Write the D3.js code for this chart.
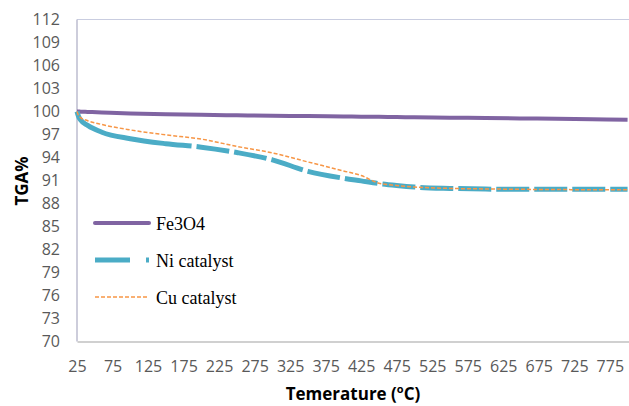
<!DOCTYPE html>
<html>
<head>
<meta charset="utf-8">
<script src="https://cdn.jsdelivr.net/npm/d3@7"></script>
<style>
  html, body { margin: 0; padding: 0; background: #fff; }
  svg { display: block; }
</style>
</head>
<body>
<svg id="chart" width="629" height="406"></svg>
<script>
// Thermogravimetric curves (mass % vs temperature)
const temperatures = [25, 27, 30, 40, 60, 100, 150, 200, 250, 300, 350, 400, 425, 450, 475, 500, 550, 600, 650, 700, 750, 800];
const fe3o4 = [100, 100, 99.98, 99.95, 99.88, 99.75, 99.65, 99.57, 99.5, 99.45, 99.4, 99.35, 99.32, 99.3, 99.27, 99.25, 99.2, 99.15, 99.1, 99.05, 98.98, 98.92];
const niCatalyst = [100, 99.4, 98.9, 98.2, 97.3, 96.45, 95.8, 95.35, 94.65, 93.7, 92.2, 91.3, 90.95, 90.6, 90.35, 90.15, 89.97, 89.88, 89.85, 89.85, 89.85, 89.85];
const cuCatalyst = [100, 99.5, 99.2, 98.8, 98.3, 97.6, 96.95, 96.4, 95.45, 94.6, 93.42, 92.25, 91.65, 90.65, 90.35, 90.15, 89.97, 89.9, 89.85, 89.82, 89.8, 89.8];

const seriesNames = ["Fe3O4", "Ni catalyst", "Cu catalyst"];
const xTicks = [25, 75, 125, 175, 225, 275, 325, 375, 425, 475, 525, 575, 625, 675, 725, 775];
const yTicks = [70, 73, 76, 79, 82, 85, 88, 91, 94, 97, 100, 103, 106, 109, 112];

const svg = d3.select("#chart");
const plotLeft = 77, plotRight = 629, plotTop = 19.5, plotBottom = 341.5;

const x = d3.scaleLinear().domain([25, 802]).range([plotLeft, plotRight]);
const y = d3.scaleLinear().domain([70, 112]).range([plotBottom, plotTop]);

// plot frame
svg.append("line").attr("x1", plotLeft).attr("x2", plotRight).attr("y1", plotTop).attr("y2", plotTop)
  .attr("stroke", "#c9cde0").attr("stroke-width", 1.2);
svg.append("line").attr("x1", plotLeft).attr("x2", plotLeft).attr("y1", plotTop).attr("y2", plotBottom)
  .attr("stroke", "#bcbccf").attr("stroke-width", 1.5);

// axes
const xAxis = d3.axisBottom(x).tickValues(xTicks).tickSize(0).tickPadding(19);
const gx = svg.append("g").attr("transform", `translate(0,${plotBottom})`).call(xAxis);
gx.select(".domain").attr("stroke", "#c0c0c0").attr("stroke-width", 1.5);

const yAxis = d3.axisLeft(y).tickValues(yTicks).tickSize(0).tickPadding(17);
const gy = svg.append("g").attr("transform", `translate(${plotLeft},0)`).call(yAxis);
gy.select(".domain").remove();

svg.selectAll(".tick text")
  .attr("font-family", "'Open Sans', sans-serif")
  .attr("font-size", 16)
  .attr("fill", "#595959");

// axis titles
svg.append("text")
  .attr("x", 353).attr("y", 400)
  .attr("text-anchor", "middle")
  .attr("font-family", "'Open Sans', sans-serif")
  .attr("font-weight", "bold").attr("font-size", 17).attr("fill", "#000")
  .call(t => {
    t.append("tspan").text("Temerature (");
    t.append("tspan").attr("baseline-shift", "super").attr("font-size", 11).text("o");
    t.append("tspan").text("C)");
  });

svg.append("text")
  .attr("transform", "translate(28,181) rotate(-90)")
  .attr("text-anchor", "middle")
  .attr("font-family", "'Open Sans', sans-serif")
  .attr("font-weight", "bold").attr("font-size", 17).attr("fill", "#000")
  .text("TGA%");

// line generator
const lineGen = vals => d3.line()
  .x((d, i) => x(temperatures[i]))
  .y(d => y(d))
  .curve(d3.curveMonotoneX)(vals);

const plot = svg.append("g");

plot.append("path").attr("d", lineGen(fe3o4))
  .attr("fill", "none").attr("stroke", "#8064a2").attr("stroke-width", 4);

const niPath = plot.append("path").attr("d", lineGen(niCatalyst))
  .attr("fill", "none").attr("stroke", "#4bacc6").attr("stroke-width", 5)
  .attr("stroke-linecap", "butt");
// long dashes, solid along the steep start of the curve
const niLen = niPath.node().getTotalLength();
const dashes = [125];
let acc = 125;
while (acc < niLen + 50) { dashes.push(5, 33); acc += 38; }
niPath.attr("stroke-dasharray", dashes.join(","));

plot.append("path").attr("d", lineGen(cuCatalyst))
  .attr("fill", "none").attr("stroke", "#f79646").attr("stroke-width", 1.5)
  .attr("stroke-dasharray", "4,2");

// legend
const legend = svg.append("g");
const legY = [223, 260, 297];
const legStyles = [
  { stroke: "#8064a2", width: 4, dash: null, cap: "round" },
  { stroke: "#4bacc6", width: 5, dash: "35,16,3,200", cap: "butt" },
  { stroke: "#f79646", width: 1.5, dash: "4,2", cap: "butt" }
];
seriesNames.forEach((name, i) => {
  const s = legStyles[i];
  const ln = legend.append("line")
    .attr("x1", 95).attr("x2", 149).attr("y1", legY[i]).attr("y2", legY[i])
    .attr("stroke", s.stroke).attr("stroke-width", s.width).attr("stroke-linecap", s.cap);
  if (s.dash) ln.attr("stroke-dasharray", s.dash);
  legend.append("text")
    .attr("x", 156).attr("y", legY[i] + 6.5)
    .attr("font-family", "'Liberation Serif', 'Times New Roman', serif")
    .attr("font-size", 18).attr("fill", "#000")
    .text(name);
});
</script>
</body>
</html>
